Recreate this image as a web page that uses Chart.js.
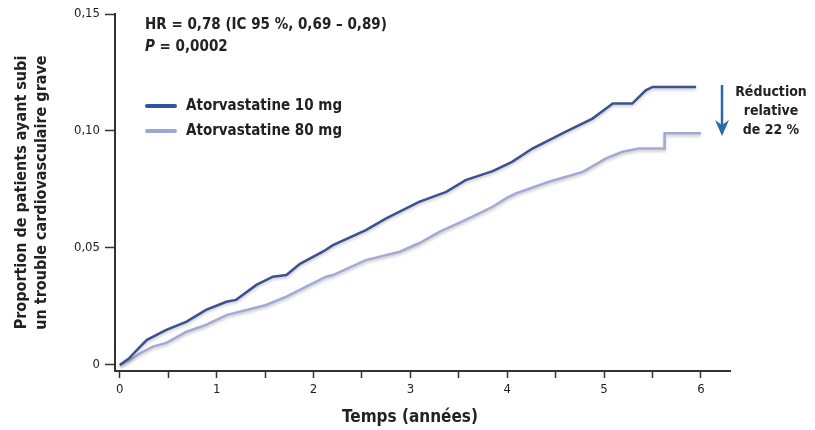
<!DOCTYPE html>
<html lang="fr">
<head>
    <meta charset="UTF-8">
    <title>Atorvastatine - trouble cardiovasculaire grave</title>
    <script src="https://cdn.jsdelivr.net/npm/chart.js"></script>
    <style>
        body {
            margin: 0;
            padding: 0;
            background-color: #fff;
        }
    </style>
</head>
<body>
    <canvas id="kmChart" width="815" height="430"></canvas>

    <script>
        // temps (années) et proportion cumulée
        const years10 = [0, 0.1, 0.21, 0.28, 0.48, 0.69, 0.89, 1.1, 1.2, 1.41, 1.58, 1.72, 1.86, 2.1, 2.2, 2.54, 2.75, 3.09, 3.37, 3.57, 3.85, 4.05, 4.26, 4.6, 4.88, 5.09, 5.29, 5.43, 5.5, 5.95];
        const values10 = [0, 0.003, 0.0078, 0.0107, 0.015, 0.0185, 0.0235, 0.027, 0.0278, 0.0342, 0.0377, 0.0384, 0.0432, 0.0485, 0.0512, 0.0576, 0.0626, 0.0697, 0.074, 0.079, 0.0828, 0.0868, 0.0925, 0.0996, 0.1053, 0.1117, 0.1117, 0.1174, 0.1188, 0.1188];

        const years80 = [0, 0.1, 0.21, 0.34, 0.48, 0.69, 0.89, 1.1, 1.31, 1.51, 1.72, 1.94, 2.13, 2.2, 2.54, 2.89, 3.09, 3.3, 3.57, 3.85, 4.0, 4.09, 4.43, 4.78, 5.02, 5.19, 5.36, 5.62, 5.625, 6.0];
        const values80 = [0, 0.002, 0.005, 0.0078, 0.0094, 0.0142, 0.0171, 0.0213, 0.0235, 0.0256, 0.0292, 0.0338, 0.0377, 0.0384, 0.0448, 0.0484, 0.052, 0.0569, 0.062, 0.0676, 0.0715, 0.0733, 0.0783, 0.0825, 0.0883, 0.0911, 0.0925, 0.0925, 0.099, 0.099];

        const xTicks = [0, 0.5, 1, 1.5, 2, 2.5, 3, 3.5, 4, 4.5, 5, 5.5, 6];
        const yTicks = [0, 0.05, 0.10, 0.15];
        const seriesLabels = ['Atorvastatine 10 mg', 'Atorvastatine 80 mg'];

        const FONT = "'Liberation Sans Narrow', 'DejaVu Sans Condensed', Arial, sans-serif";
        const TEXT = '#222';

        function toPoints(xs, ys) {
            return xs.map((x, i) => ({ x: x, y: ys[i] }));
        }

        // ombre légère sous les courbes
        const shadowPlugin = {
            id: 'shadow',
            beforeDatasetsDraw(chart) {
                const ctx = chart.ctx;
                ctx.save();
                ctx.shadowColor = 'rgba(0,0,0,0.22)';
                ctx.shadowBlur = 3;
                ctx.shadowOffsetY = 2;
            },
            afterDatasetsDraw(chart) {
                chart.ctx.restore();
            }
        };

        // textes, légende et flèche
        const annotations = {
            id: 'annotations',
            afterDraw(chart) {
                const ctx = chart.ctx;
                ctx.save();
                ctx.fillStyle = TEXT;
                ctx.textBaseline = 'middle';
                ctx.textAlign = 'left';

                ctx.font = 'bold 15px ' + FONT;
                ctx.fillText('HR = 0,78 (IC 95 %, 0,69 – 0,89)', 145, 25);
                ctx.font = 'italic bold 15px ' + FONT;
                ctx.fillText('P', 145, 47);
                const pw = ctx.measureText('P').width;
                ctx.font = 'bold 15px ' + FONT;
                ctx.fillText(' = 0,0002', 145 + pw, 47);

                // légende
                const legendY = [106, 131];
                const legendColors = ['#2f54a0', '#9aa7d8'];
                chart.data.datasets.forEach((ds, i) => {
                    ctx.strokeStyle = legendColors[i];
                    ctx.lineWidth = 4;
                    ctx.lineCap = 'round';
                    ctx.beginPath();
                    ctx.moveTo(147, legendY[i]);
                    ctx.lineTo(175, legendY[i]);
                    ctx.stroke();
                    ctx.fillStyle = TEXT;
                    ctx.fillText(ds.label, 186, legendY[i]);
                });

                // flèche
                ctx.strokeStyle = '#2e6aab';
                ctx.fillStyle = '#2e6aab';
                ctx.lineWidth = 2.5;
                ctx.lineCap = 'butt';
                ctx.beginPath();
                ctx.moveTo(722, 85);
                ctx.lineTo(722, 128);
                ctx.stroke();
                ctx.beginPath();
                ctx.moveTo(715, 120);
                ctx.lineTo(722, 136);
                ctx.lineTo(729, 120);
                ctx.lineTo(722, 125);
                ctx.closePath();
                ctx.fill();

                ctx.fillStyle = TEXT;
                ctx.textAlign = 'center';
                ctx.font = 'bold 14px ' + FONT;
                ctx.fillText('Réduction', 771, 92);
                ctx.fillText('relative', 771, 111);
                ctx.fillText('de 22 %', 771, 130);

                // titre de l'axe x
                ctx.font = 'bold 17px ' + FONT;
                ctx.fillText('Temps (années)', 410, 418);
                ctx.restore();
            }
        };

        const ctx = document.getElementById('kmChart').getContext('2d');
        new Chart(ctx, {
            type: 'line',
            data: {
                datasets: [
                    {
                        label: seriesLabels[0],
                        data: toPoints(years10, values10),
                        borderColor: '#3c5190',
                        borderWidth: 2.5,
                        pointRadius: 0,
                        tension: 0
                    },
                    {
                        label: seriesLabels[1],
                        data: toPoints(years80, values80),
                        borderColor: '#a2aad4',
                        borderWidth: 2.5,
                        pointRadius: 0,
                        tension: 0
                    }
                ]
            },
            options: {
                responsive: false,
                animation: false,
                layout: { padding: { left: 0, right: 85, top: 14, bottom: 0 } },
                plugins: {
                    legend: { display: false },
                    tooltip: { enabled: false }
                },
                scales: {
                    x: {
                        type: 'linear',
                        min: -0.05,
                        max: 6.3,
                        afterBuildTicks: (scale) => { scale.ticks = xTicks.map(v => ({ value: v })); },
                        afterFit: (scale) => { scale.height = 59; },
                        ticks: {
                            autoSkip: false,
                            maxRotation: 0,
                            padding: 4,
                            color: TEXT,
                            font: { family: FONT, size: 13 },
                            callback: (v) => Number.isInteger(v) ? String(v) : ''
                        },
                        grid: { drawOnChartArea: false, tickLength: 7, tickColor: '#333', tickWidth: 1.5 },
                        border: { color: '#333', width: 2 }
                    },
                    y: {
                        min: -0.0026,
                        max: 0.15,
                        afterBuildTicks: (scale) => { scale.ticks = yTicks.map(v => ({ value: v })); },
                        afterFit: (scale) => { scale.width = 115; },
                        ticks: {
                            padding: 5,
                            color: TEXT,
                            font: { family: FONT, size: 13 },
                            callback: (v) => v === 0 ? '0' : v.toFixed(2).replace('.', ',')
                        },
                        grid: { drawOnChartArea: false, tickLength: 10, tickColor: '#333', tickWidth: 1.5 },
                        border: { color: '#333', width: 2 },
                        title: {
                            display: true,
                            text: ['Proportion de patients ayant subi', 'un trouble cardiovasculaire grave'],
                            color: TEXT,
                            font: { family: FONT, size: 16, weight: 'bold', lineHeight: 1.25 },
                            padding: { top: 12, bottom: 0 }
                        }
                    }
                }
            },
            plugins: [shadowPlugin, annotations]
        });
    </script>
</body>
</html>
